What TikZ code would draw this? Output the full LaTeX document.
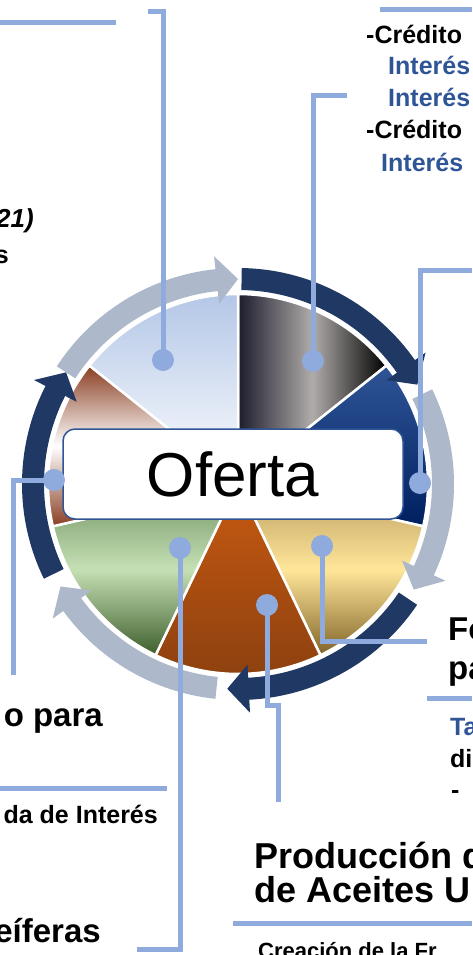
\documentclass[tikz,border=0pt]{standalone}
\usepackage{fontspec}
\setmainfont{Liberation Sans}
\definecolor{conn}{HTML}{8FAADC}
\definecolor{navyarc}{HTML}{203864}
\definecolor{grayarc}{HTML}{ADB9CA}
\definecolor{txtblue}{HTML}{2F5597}
\newcommand\ringarrow[4]{%
  \fill[#1] (#2:216) arc[start angle=#2, end angle=#3, radius=216] -- (#3:229) -- (#4:205) -- (#3:181) -- (#3:194) arc[start angle=#3, end angle=#2, radius=194] -- cycle;}
\begin{document}
\begin{tikzpicture}[x=1pt,y=-1pt,
  conn/.style={draw=conn, line width=5pt},
  dot/.style={circle, fill=conn, inner sep=0pt, minimum size=22pt},
  seg/.style={draw=white, line width=2.5pt},
  txt/.style={inner sep=0pt, font=\bfseries\fontsize{25}{25}\selectfont},
  big/.style={inner sep=0pt, font=\bfseries\fontsize{33}{33}\selectfont}]
\useasboundingbox (0,0) rectangle (472,955);
\fill[white] (0,0) rectangle (472,955);
\clip (0,0) rectangle (472,955);

% pie
\begin{scope}[shift={(238,484)}]
  \path[seg, left color={rgb,255:red,28;green,28;blue,44}, right color=black, middle color={rgb,255:red,176;green,172;blue,170}] (0,0) -- (-90:190) arc[start angle=-90, end angle=-38.57, radius=190] -- cycle;
  \path[seg, top color={rgb,255:red,47;green,85;blue,151}, bottom color={rgb,255:red,0;green,32;blue,96}] (0,0) -- (-38.57:190) arc[start angle=-38.57, end angle=12.86, radius=190] -- cycle;
  \path[seg, top color={rgb,255:red,185;green,155;blue,95}, bottom color={rgb,255:red,128;green,100;blue,40}, middle color={rgb,255:red,255;green,230;blue,153}] (0,0) -- (12.86:190) arc[start angle=12.86, end angle=64.29, radius=190] -- cycle;
  \path[seg, top color={rgb,255:red,200;green,90;blue,18}, bottom color={rgb,255:red,140;green,64;blue,15}] (0,0) -- (64.29:190) arc[start angle=64.29, end angle=115.71, radius=190] -- cycle;
  \path[seg, top color={rgb,255:red,110;green,145;blue,98}, bottom color={rgb,255:red,62;green,94;blue,44}, middle color={rgb,255:red,197;green,224;blue,180}] (0,0) -- (115.71:190) arc[start angle=115.71, end angle=167.14, radius=190] -- cycle;
  \path[seg, top color={rgb,255:red,138;green,62;blue,34}, bottom color={rgb,255:red,138;green,62;blue,34}, middle color=white] (0,0) -- (167.14:190) arc[start angle=167.14, end angle=218.57, radius=190] -- cycle;
  \path[seg, top color={rgb,255:red,180;green,199;blue,231}, bottom color=white] (0,0) -- (218.57:190) arc[start angle=218.57, end angle=270, radius=190] -- cycle;
  % ring arrows
  \ringarrow{grayarc}{-147}{-96}{-90}
  \ringarrow{grayarc}{-26}{25}{31}
  \ringarrow{grayarc}{96}{144}{150}
  \ringarrow{navyarc}{-89}{-35}{-29}
  \ringarrow{navyarc}{34}{87}{93}
  \ringarrow{navyarc}{154}{207}{213}
\end{scope}

% central box
\node[draw=txtblue, line width=1.5pt, fill=white, rounded corners=12pt, minimum width=340pt, minimum height=90pt, inner sep=0pt, font=\fontsize{62}{62}\selectfont] (box) at (233,474) {Oferta};

% coordinates
\coordinate (c1a) at (163,12); \coordinate (c1b) at (148,12);
\coordinate (c2a) at (313,96); \coordinate (c2b) at (347,96);
\coordinate (c3a) at (420,270); \coordinate (c3b) at (472,270);
\coordinate (c4a) at (322,641); \coordinate (c4b) at (427,641);
\coordinate (c5a) at (267,705); \coordinate (c5b) at (278,705); \coordinate (c5c) at (278,802);
\coordinate (c6a) at (180,949); \coordinate (c6b) at (137,949);
\coordinate (c7a) at (13,480); \coordinate (c7b) at (13,675);
\coordinate (r1a) at (0,23); \coordinate (r1b) at (116,23);
\coordinate (r2a) at (380,10); \coordinate (r2b) at (472,10);
\coordinate (r3a) at (0,788); \coordinate (r3b) at (167,788);
\coordinate (r4a) at (427,698); \coordinate (r4b) at (472,698);
\coordinate (r5a) at (233,923); \coordinate (r5b) at (472,923);

% dot positions
\coordinate (d1) at (163,360);
\coordinate (d2) at (313,361);
\coordinate (d3) at (420,483);
\coordinate (d4) at (322,546);
\coordinate (d5) at (267,605);
\coordinate (d6) at (180,548);
\coordinate (d7) at (54,480);

% connectors
\draw[conn] (d1) -- (c1a) -- (c1b);
\draw[conn] (d2) -- (c2a) -- (c2b);
\draw[conn] (d3) -- (c3a) -- (c3b);
\draw[conn] (d4) -- (c4a) -- (c4b);
\draw[conn] (d5) -- (c5a) -- (c5b) -- (c5c);
\draw[conn] (d6) -- (c6a) -- (c6b);
\draw[conn] (d7) -- (c7a) -- (c7b);
\draw[conn] (r1a) -- (r1b);
\draw[conn] (r2a) -- (r2b);
\draw[conn] (r3a) -- (r3b);
\draw[conn] (r4a) -- (r4b);
\draw[conn] (r5a) -- (r5b);
\node[dot] (n1) at (d1) {};
\node[dot] (n2) at (d2) {};
\node[dot] (n3) at (d3) {};
\node[dot] (n4) at (d4) {};
\node[dot] (n5) at (d5) {};
\node[dot] (n6) at (d6) {};
\node[dot] (n7) at (d7) {};

% texts top right
\node[txt, anchor=base west] (t1) at (366,44) {-Crédito};
\node[txt, anchor=base west, text=txtblue] (t2) at (388,75) {Interés};
\node[txt, anchor=base west, text=txtblue] (t3) at (388,107) {Interés};
\node[txt, anchor=base west] (t4) at (366,139) {-Crédito};
\node[txt, anchor=base west, text=txtblue] (t5) at (381,171) {Interés};
% left texts
\node[inner sep=0pt, anchor=base east, font=\bfseries\itshape\fontsize{26}{26}\selectfont] (t6) at (34,227) {21)};
\node[txt, anchor=base east] (t7) at (9,263) {s};
\node[big, anchor=base east] (t8) at (103,726) {o para};
\node[txt, anchor=base east] (t9) at (158,823) {da de Interés};
\node[big, anchor=base east] (t10) at (101,942) {eíferas};
% right texts
\node[big, anchor=base west] (t11) at (448,640) {Fo};
\node[big, anchor=base west] (t12) at (448,679) {pa};
\node[txt, anchor=base west, text=txtblue] (t13) at (450,735) {Ta};
\node[txt, anchor=base west] (t14) at (450,767) {di};
\node[txt, anchor=base west] (t15) at (451,798) {-};
% bottom texts
\node[inner sep=0pt, anchor=base west, font=\bfseries\fontsize{36}{36}\selectfont] (t16) at (254,868) {Producción de};
\node[inner sep=0pt, anchor=base west, font=\bfseries\fontsize{36}{36}\selectfont] (t17) at (254,902) {de Aceites U};
\node[inner sep=0pt, anchor=base west, font=\bfseries\fontsize{22}{22}\selectfont] (t18) at (258,958) {Creación de la Fr};
\end{tikzpicture}
\end{document}
